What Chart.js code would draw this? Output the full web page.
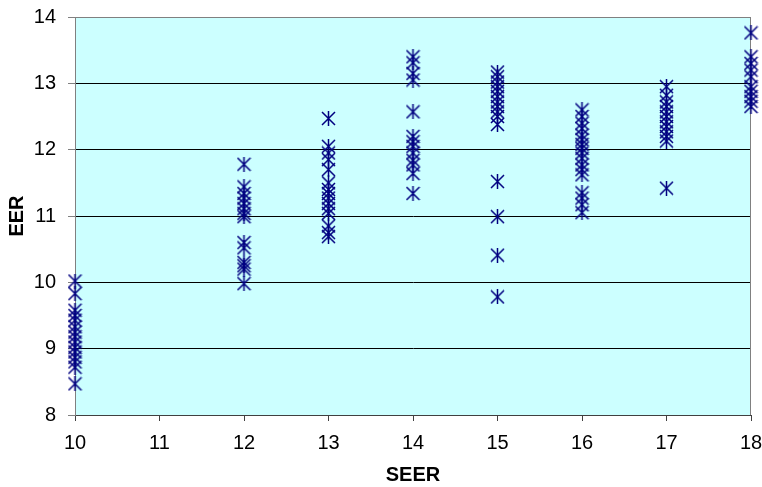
<!DOCTYPE html>
<html>
<head>
<meta charset="utf-8">
<script src="https://cdn.jsdelivr.net/npm/chart.js@4/dist/chart.umd.min.js"></script>
<style>
  html, body { margin: 0; padding: 0; background: #fff; }
  #wrap { width: 762px; height: 487px; }
</style>
</head>
<body>
<div id="wrap"><canvas id="scatterChart" width="762" height="487"></canvas></div>
<script>
// SEER levels and the EER readings at each one
var seerLevels = [10, 12, 13, 14, 15, 16, 17, 18];
var eer10 = [10.02, 9.83, 9.58, 9.5, 9.43, 9.33, 9.25, 9.18, 9.1, 9.02, 8.95, 8.87, 8.8, 8.72, 8.47];
var eer12 = [11.78, 11.44, 11.34, 11.27, 11.19, 11.11, 11.04, 10.99, 10.6, 10.52, 10.3, 10.25, 10.2, 9.98];
var eer13 = [12.47, 12.05, 11.95, 11.85, 11.7, 11.5, 11.4, 11.34, 11.27, 11.19, 11.11, 11.04, 10.85, 10.75, 10.69];
var eer14 = [13.4, 13.31, 13.15, 13.05, 12.57, 12.2, 12.12, 12.05, 11.95, 11.84, 11.77, 11.64, 11.34];
var eer15 = [13.17, 13.1, 13.02, 12.95, 12.88, 12.8, 12.72, 12.65, 12.57, 12.5, 12.38, 11.52, 10.99, 10.41, 9.78];
var eer16 = [12.6, 12.5, 12.4, 12.32, 12.22, 12.15, 12.08, 12.02, 11.95, 11.87, 11.77, 11.7, 11.62, 11.35, 11.27, 11.17, 11.05];
var eer17 = [12.95, 12.82, 12.72, 12.65, 12.57, 12.5, 12.42, 12.35, 12.27, 12.2, 12.13, 11.42];
var eer18 = [13.76, 13.4, 13.3, 13.2, 13.1, 12.95, 12.88, 12.8, 12.73, 12.65];
var eerColumns = [eer10, eer12, eer13, eer14, eer15, eer16, eer17, eer18];

var points = [];
seerLevels.forEach(function (s, i) {
    eerColumns[i].forEach(function (v) {
        points.push({ x: s, y: v });
    });
});

// asterisk marker: an X with a vertical bar
var marker = document.createElement('canvas');
marker.width = 15;
marker.height = 15;
var m = marker.getContext('2d');
m.strokeStyle = '#000080';
m.lineWidth = 1.5;
m.beginPath();
m.moveTo(1, 1); m.lineTo(14, 14);
m.moveTo(14, 1); m.lineTo(1, 14);
m.moveTo(7.5, 0); m.lineTo(7.5, 15);
m.stroke();

var plotFrame = {
    id: 'plotFrame',
    beforeDraw: function (chart) {
        var a = chart.chartArea, c = chart.ctx;
        c.save();
        c.fillStyle = '#ccffff';
        c.fillRect(a.left, a.top, a.right - a.left, a.bottom - a.top);
        c.restore();
    },
    beforeDatasetsDraw: function (chart) {
        var a = chart.chartArea, c = chart.ctx;
        c.save();
        c.strokeStyle = '#808080';
        c.lineWidth = 1;
        c.beginPath();
        c.moveTo(a.left, a.top + 0.5);
        c.lineTo(a.right - 0.5, a.top + 0.5);
        c.lineTo(a.right - 0.5, a.bottom);
        c.stroke();
        c.restore();
    }
};

var tickFont = { family: '"Liberation Sans", Arial, sans-serif', size: 20 };
var titleFont = { family: '"Liberation Sans", Arial, sans-serif', size: 20, weight: 'bold' };

new Chart(document.getElementById('scatterChart').getContext('2d'), {
    type: 'scatter',
    data: {
        datasets: [{
            label: 'EER',
            data: points,
            pointStyle: marker,
            pointRadius: 7,
            pointHoverRadius: 7,
            clip: false
        }]
    },
    options: {
        responsive: false,
        animation: false,
        layout: { padding: 0 },
        plugins: {
            legend: { display: false },
            tooltip: { enabled: false }
        },
        scales: {
            x: {
                type: 'linear',
                min: 10,
                max: 18,
                ticks: { stepSize: 1, color: '#000', font: tickFont, padding: 10 },
                grid: { drawOnChartArea: false, drawTicks: true, tickLength: 6, color: '#404040' },
                border: { color: '#404040', width: 1 },
                title: { display: true, text: 'SEER', color: '#000', font: titleFont, padding: { top: 7, bottom: 0 } },
                afterFit: function (scale) {
                    scale.height = 72;
                    scale.paddingRight = 11;
                    scale.paddingLeft = 0;
                }
            },
            y: {
                min: 8,
                max: 14,
                ticks: { stepSize: 1, color: '#000', font: tickFont, padding: 12 },
                grid: {
                    color: function (ctx) { return ctx.tick && ctx.tick.value === 14 ? '#808080' : '#000'; },
                    tickLength: 7,
                    tickColor: '#808080'
                },
                border: { color: '#808080', width: 1 },
                title: { display: true, text: 'EER', color: '#000', font: titleFont, padding: { top: 5, bottom: 0 } },
                afterFit: function (scale) {
                    scale.width = 75;
                    scale.paddingTop = 17;
                    scale.paddingBottom = 0;
                }
            }
        }
    },
    plugins: [plotFrame]
});
</script>
</body>
</html>
